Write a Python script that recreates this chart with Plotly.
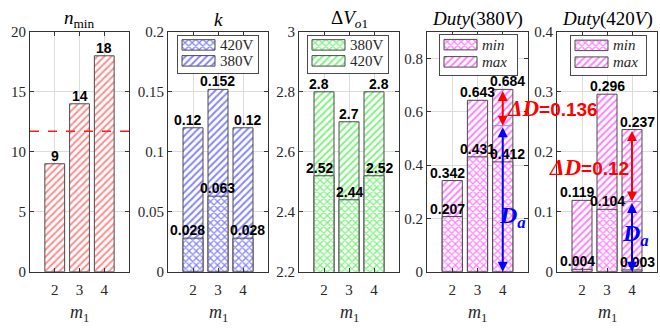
import plotly.graph_objects as go

# ---- data -------------------------------------------------------------
m1 = [2, 3, 4]

n_min = [9, 14, 18]
n_ref = 11.7

k_380 = [0.12, 0.152, 0.12]
k_420 = [0.028, 0.063, 0.028]

dv_420 = [2.8, 2.7, 2.8]
dv_380 = [2.52, 2.44, 2.52]

duty380_max = [0.342, 0.643, 0.684]
duty380_min = [0.207, 0.431, 0.412]
duty420_max = [0.119, 0.296, 0.237]
duty420_min = [0.004, 0.104, 0.003]

dD_380 = 0.136
dD_420 = 0.12

# ---- style ------------------------------------------------------------
W, H = 660, 334
SERIF = "Liberation Serif"
SANS = "Liberation Sans"
AX = "#333333"
TXT = "#262626"
GRID = "#dcdcdc"
OUT = "#4a4a4a"

x_dom = [(30, 129), (168, 268), (299, 399), (427, 528), (557, 657)]
y_top, y_bot = 25, 277


def px_x(p):
    return p / W


def px_y(p):
    return 1 - p / H


fig = go.Figure()

RED, BLUE, GREEN, MAG = "#ff1a1a", "#0a0aff", "#00e600", "#ff00ff"


def hatch(color, shape):
    return dict(shape=shape, fgcolor=color, bgcolor="white", size=5,
                solidity=0.4 if shape == "/" else 0.45)


def add_bar(i, vals, color, shape):
    fig.add_trace(go.Bar(
        x=m1, y=vals, width=0.8,
        xaxis=f"x{i}", yaxis=f"y{i}", showlegend=False,
        marker=dict(color=color, line=dict(color=OUT, width=1),
                    pattern=hatch(color, shape)),
        hoverinfo="skip",
    ))


def add_labels(i, vals, spread=True):
    # value labels sit just above each bar top; outer labels are nudged
    # sideways a little so neighbouring numbers do not collide
    shifts = [-5, 0, 5] if spread else [0, 0, 0]
    for xv, v, sh in zip(m1, vals, shifts):
        fig.add_annotation(
            x=xv, y=v, xref=f"x{i}", yref=f"y{i}", text=f"{v:g}",
            showarrow=False, xanchor="center", yanchor="bottom",
            xshift=sh, yshift=-2,
            font=dict(family=SANS, size=14, color="black", weight="bold"),
        )


# panel 1: n_min
add_bar(1, n_min, RED, "/")
add_labels(1, n_min, spread=False)

# panel 2: k
add_bar(2, k_380, BLUE, "/")
add_bar(2, k_420, BLUE, "x")
add_labels(2, k_380)
add_labels(2, k_420)

# panel 3: delta V_o1
add_bar(3, dv_420, GREEN, "/")
add_bar(3, dv_380, GREEN, "x")
add_labels(3, dv_420)
add_labels(3, dv_380)

# panel 4: duty at 380 V
add_bar(4, duty380_max, MAG, "/")
add_bar(4, duty380_min, MAG, "x")
add_labels(4, duty380_max)
add_labels(4, duty380_min)

# panel 5: duty at 420 V
add_bar(5, duty420_max, MAG, "/")
add_bar(5, duty420_min, MAG, "x")
add_labels(5, duty420_max)
add_labels(5, duty420_min)

# ---- axes -------------------------------------------------------------
y_cfg = [
    ([0, 20], [0, 5, 10, 15, 20], ["0", "5", "10", "15", "20"]),
    ([0, 0.2], [0, 0.05, 0.1, 0.15, 0.2], ["0", "0.05", "0.1", "0.15", "0.2"]),
    ([2.2, 3], [2.2, 2.4, 2.6, 2.8, 3], ["2.2", "2.4", "2.6", "2.8", "3"]),
    ([0, 0.9], [0, 0.2, 0.4, 0.6, 0.8], ["0", "0.2", "0.4", "0.6", "0.8"]),
    ([0, 0.4], [0, 0.1, 0.2, 0.3, 0.4], ["0", "0.1", "0.2", "0.3", "0.4"]),
]

layout = dict(
    width=W, height=H,
    margin=dict(l=0, r=0, t=0, b=0),
    paper_bgcolor="white", plot_bgcolor="rgb(255,255,255)",
    barmode="overlay",
    showlegend=False,
)
axis_common = dict(
    showgrid=True, gridcolor=GRID, gridwidth=1,
    showline=True, linecolor=AX, linewidth=1, mirror="ticks",
    ticks="inside", ticklen=4, tickcolor=AX,
    tickfont=dict(family=SERIF, size=15, color=TXT),
    zeroline=False, fixedrange=True,
)
for i, ((x0, x1), (yr, tv, tt)) in enumerate(zip(x_dom, y_cfg), start=1):
    sfx = "" if i == 1 else str(i)
    layout[f"xaxis{sfx}"] = dict(
        axis_common, domain=[px_x(x0), px_x(x1)], range=[1, 5],
        tickvals=m1, ticktext=[str(v) for v in m1],
        anchor=f"y{i}", ticklabelstandoff=4,
    )
    layout[f"yaxis{sfx}"] = dict(
        axis_common, domain=[px_y(y_bot), px_y(y_top)], range=yr,
        tickvals=tv, ticktext=tt, anchor=f"x{i}",
    )

# ---- legend boxes (small inset axes, units = pixels) -------------------
legend_boxes = [
    # panel, box (x0, x1, y0, y1) in px, entries (label, shape), colour
    (2, (178, 258, 29, 68), [("420V", "x"), ("380V", "/")], BLUE),
    (3, (308, 388, 29, 68), [("380V", "x"), ("420V", "/")], GREEN),
    (4, (440, 517, 28, 70), [("<i>min</i>", "x"), ("<i>max</i>", "/")], MAG),
    (5, (571, 646, 29, 70), [("<i>min</i>", "x"), ("<i>max</i>", "/")], MAG),
]
leg_axis = dict(showgrid=False, zeroline=False, showticklabels=False,
                ticks="", showline=True, linecolor=OUT, linewidth=1,
                mirror=True, fixedrange=True)
for p, (bx0, bx1, by0, by1), entries, color in legend_boxes:
    j = p + 4
    bw, bh = bx1 - bx0, by1 - by0
    layout[f"xaxis{j}"] = dict(leg_axis, domain=[px_x(bx0), px_x(bx1)],
                               range=[0, bw], anchor=f"y{j}")
    layout[f"yaxis{j}"] = dict(leg_axis, domain=[px_y(by1), px_y(by0)],
                               range=[bh, 0], anchor=f"x{j}")
    row_c = [bh * 0.25, bh * 0.68]
    for (label, shape), rc in zip(entries, row_c):
        fig.add_trace(go.Bar(
            orientation="h", y=[rc], x=[33], base=[4], width=[11],
            xaxis=f"x{j}", yaxis=f"y{j}", showlegend=False,
            marker=dict(color=color, line=dict(color=OUT, width=1),
                        pattern=hatch(color, shape)),
            hoverinfo="skip",
        ))
        fig.add_annotation(x=40, y=rc, xref=f"x{j}", yref=f"y{j}",
                           text=label, showarrow=False,
                           xanchor="left", yanchor="middle",
                           font=dict(family=SERIF, size=15, color=TXT))

fig.update_layout(**layout)

# ---- titles -----------------------------------------------------------
titles = [
    "<i>n</i><sub>min</sub>",
    "<i>k</i>",
    "Δ<i>V</i><sub><i>o</i>1</sub>",
    "<i>Duty</i>(380<i>V</i>)",
    "<i>Duty</i>(420<i>V</i>)",
]
for (x0, x1), t in zip(x_dom, titles):
    cx = px_x((x0 + x1) / 2)
    fig.add_annotation(x=cx, y=px_y(12), xref="paper", yref="paper",
                       text=t, showarrow=False,
                       xanchor="center", yanchor="middle",
                       font=dict(family=SERIF, size=19, color="black"))
    fig.add_annotation(x=cx, y=px_y(321), xref="paper", yref="paper",
                       text="<i>m</i><sub>1</sub>", showarrow=False,
                       xanchor="center", yanchor="middle",
                       font=dict(family=SERIF, size=18, color=TXT))

# threshold line in the n_min panel
fig.add_shape(type="line", xref="x domain", yref="y", x0=0, x1=1.01,
              y0=n_ref, y1=n_ref, line=dict(color=RED, width=1.5, dash="dash"))

# ---- delta-D / D_a arrows ---------------------------------------------
for i, top, dD in [(4, duty380_max[2], dD_380), (5, duty420_max[2], dD_420)]:
    split = top - dD
    fig.add_shape(type="line", xref=f"x{i}", yref=f"y{i}", x0=3.6, x1=4.4,
                  y0=split, y1=split, line=dict(color="#8c8cff", width=1))
    fig.add_annotation(x=4, y=split, ax=4, ay=top, xref=f"x{i}", yref=f"y{i}",
                       axref=f"x{i}", ayref=f"y{i}", text="", showarrow=True,
                       arrowhead=2, startarrowhead=2, arrowside="end+start",
                       arrowsize=1, startarrowsize=1, arrowwidth=2,
                       arrowcolor="#ff0000", standoff=0, startstandoff=0)
    fig.add_annotation(x=4, y=0, ax=4, ay=split, xref=f"x{i}", yref=f"y{i}",
                       axref=f"x{i}", ayref=f"y{i}", text="", showarrow=True,
                       arrowhead=2, startarrowhead=2, arrowside="end+start",
                       arrowsize=1, startarrowsize=1, arrowwidth=2,
                       arrowcolor="#0000ff", standoff=0, startstandoff=0)

dd_label = ('<span style="font-family:Liberation Serif;font-size:23px">'
            '<i>ΔD</i></span>={:g}')
for (lx, cy), dD in [((505, 106), dD_380), ((547, 167), dD_420)]:
    fig.add_annotation(x=px_x(lx), y=px_y(cy), xref="paper", yref="paper",
                       text=dd_label.format(dD), showarrow=False,
                       xanchor="left", yanchor="middle",
                       font=dict(family=SANS, size=19, color="#ff0000",
                                 weight="bold"))

for cx, cy in [(512, 220), (635, 238)]:
    fig.add_annotation(x=px_x(cx), y=px_y(cy), xref="paper", yref="paper",
                       text="<i>D</i><sub><i>a</i></sub>", showarrow=False,
                       xanchor="center", yanchor="middle",
                       font=dict(family=SERIF, size=24, color="#0000ff",
                                 weight="bold"))

fig.write_html("out.html")
